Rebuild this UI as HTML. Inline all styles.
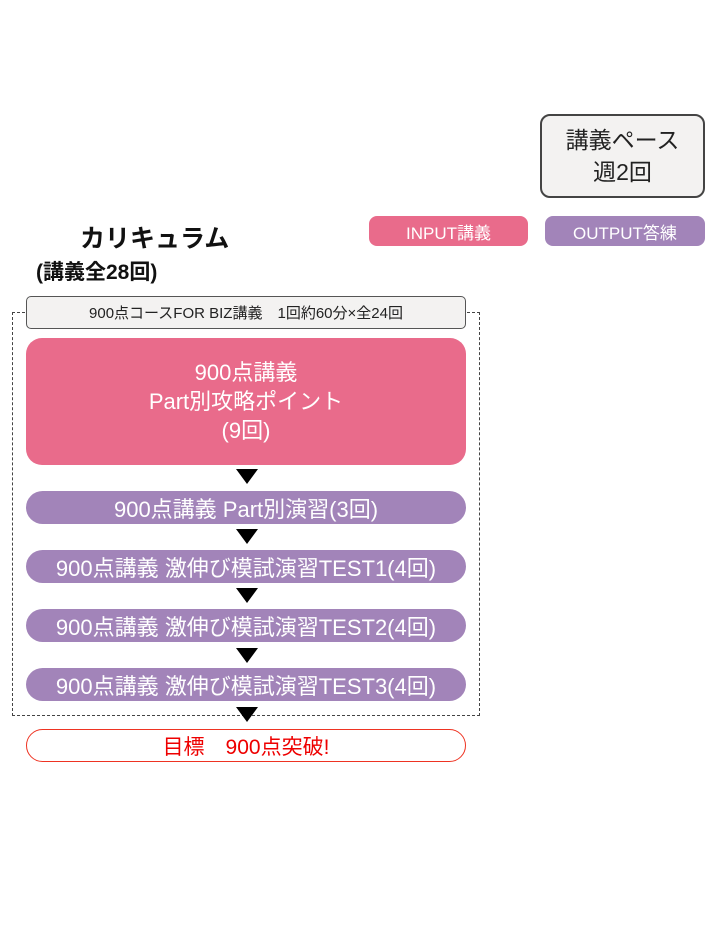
<!DOCTYPE html>
<html><head><meta charset="utf-8"><style>
body{margin:0;width:720px;height:934px;background:#fff;position:relative;font-family:"Liberation Sans","Noto Sans CJK JP",sans-serif;overflow:hidden}
.a{position:absolute;box-sizing:border-box;display:flex;align-items:center;justify-content:center;text-align:center}
.p{background:#a284b9;color:#fff;border-radius:17px;font-size:22px;left:26px;width:440px;height:33px;white-space:nowrap}
.t{position:absolute;left:236px;width:0;height:0;border-left:11px solid transparent;border-right:11px solid transparent;border-top:15px solid #000}
</style></head><body>
<div class="a" style="left:540px;top:114px;width:165px;height:84px;border:2px solid #444;border-radius:10px;background:#f3f2f1;font-size:23px;line-height:32px;color:#222">講義ペース<br>週2回</div>
<div class="a" style="left:369px;top:216px;width:159px;height:30px;background:#e96b8b;color:#fff;border-radius:8px;font-size:17px">INPUT講義</div>
<div class="a" style="left:545px;top:216px;width:160px;height:30px;background:#a284b9;color:#fff;border-radius:8px;font-size:17px">OUTPUT答練</div>
<div style="position:absolute;left:80px;top:219px;font-size:25px;font-weight:bold;color:#111">カリキュラム</div>
<div style="position:absolute;left:36px;top:256px;font-size:21px;font-weight:bold;color:#111">(講義全28回)</div>
<div style="position:absolute;left:12px;top:312px;width:468px;height:404px;box-sizing:border-box;border:1.5px dashed #444"></div>
<div class="a" style="left:26px;top:296px;width:440px;height:33px;background:#f3f2f1;border:1.5px solid #555;border-radius:5px;font-size:15px;color:#222">900点コースFOR BIZ講義　1回約60分×全24回</div>
<div class="a" style="left:26px;top:338px;width:440px;height:127px;background:#e96b8b;color:#fff;border-radius:16px;font-size:22px;line-height:29px">900点講義<br>Part別攻略ポイント<br>(9回)</div>
<div class="t" style="top:469px"></div>
<div class="a p" style="top:491px">900点講義 Part別演習(3回)</div>
<div class="t" style="top:529px"></div>
<div class="a p" style="top:550px">900点講義 激伸び模試演習TEST1(4回)</div>
<div class="t" style="top:588px"></div>
<div class="a p" style="top:609px">900点講義 激伸び模試演習TEST2(4回)</div>
<div class="t" style="top:648px"></div>
<div class="a p" style="top:668px">900点講義 激伸び模試演習TEST3(4回)</div>
<div class="t" style="top:707px"></div>
<div class="a" style="left:26px;top:729px;width:440px;height:33px;border:1.5px solid #e32;border-radius:17px;color:#e00;font-size:21px;background:#fff">目標　900点突破!</div>
</body></html>
